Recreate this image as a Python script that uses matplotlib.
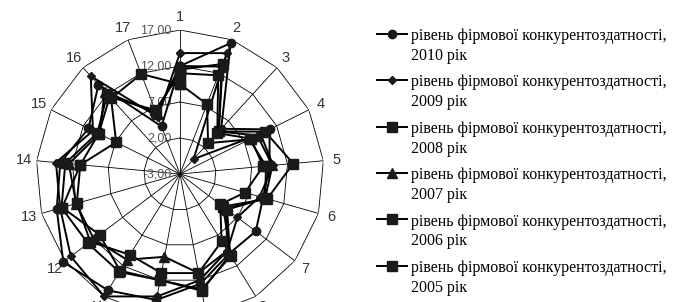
import numpy as np
import matplotlib
matplotlib.use("Agg")
import matplotlib.pyplot as plt

# axis (indicator) numbers around the radar
AXES = ['1', '2', '3', '4', '5', '6', '7', '8', '9', '10',
        '11', '12', '13', '14', '15', '16', '17']

# radial ring values and their labels
RINGS = [-3, 2, 7, 12, 17]
RING_LABELS = ['-3,00', '2,00', '7,00', '12,00', '17,00']

# values, one list per year
Y2010 = [12.0, 16.5, 5.5, 10.9, 9.5, 9.0, 10.2, 10.0, 12.5, 14.8, 16.0, 17.3, 14.8, 13.7, 11.2, 13.8, 4.1]
Y2009 = [13.8, 15.0, -0.2, 9.5, 10.0, 8.5, 7.0, 9.5, 12.0, 14.3, 17.0, 16.0, 14.3, 14.3, 10.5, 15.4, 5.5]
Y2008 = [11.5, 13.4, 5.0, 10.2, 12.8, 9.6, 4.5, 10.4, 13.3, 12.0, 13.0, 13.0, 14.1, 13.0, 9.8, 12.0, 6.2]
Y2007 = [12.0, 13.0, 5.0, 9.0, 9.9, 9.3, 5.0, 9.5, 11.0, 8.7, 11.0, 12.0, 12.0, 12.5, 9.5, 12.5, 6.0]
Y2006 = [11.0, 11.7, 4.7, 8.0, 8.6, 6.4, 4.0, 8.0, 11.0, 11.0, 10.2, 12.6, 11.9, 10.9, 9.6, 11.5, 6.5]
Y2005 = [9.5, 7.4, 2.8, 7.8, 9.0, 9.3, 5.2, 10.2, 13.5, 12.0, 12.8, 11.0, 14.0, 10.9, 6.9, 11.2, 11.9]

SERIES = [
    ('2010', Y2010, 'o', 6.0),
    ('2009', Y2009, 'D', 4.5),
    ('2008', Y2008, 's', 6.5),
    ('2007', Y2007, '^', 6.5),
    ('2006', Y2006, 's', 7.5),
    ('2005', Y2005, 's', 7.5),
]
LABEL = 'рівень фірмової конкурентоздатності,\n{} рік'

n = len(AXES)
theta = np.arange(n) * 2 * np.pi / n
theta_closed = np.append(theta, theta[0])

fig = plt.figure(figsize=(6.89, 3.02), dpi=100)
ax = fig.add_axes([0.0522, -0.053, 0.418, 0.9536], projection='polar')
ax.set_theta_zero_location('N')
ax.set_theta_direction(-1)
ax.set_ylim(RINGS[0], RINGS[-1])
ax.grid(False)
ax.set_xticks([])
ax.set_yticks([])
ax.spines['polar'].set_visible(False)

# polygon grid + spokes
for lvl in RINGS[1:]:
    ax.plot(theta_closed, [lvl] * (n + 1), color='black', lw=0.6, zorder=1)
for t in theta:
    ax.plot([t, t], [RINGS[0], RINGS[-1]], color='black', lw=0.6, zorder=1)

for lvl, txt in zip(RINGS, RING_LABELS):
    ax.annotate(txt, xy=(0, lvl), xytext=(-6, 0), textcoords='offset points',
                ha='right', va='center', fontsize=9, color='#555555',
                family='Liberation Sans', zorder=2)

for t, lab in zip(theta, AXES):
    ax.text(t, 18.8, lab, ha='center', va='center', fontsize=10.5,
            color='#333333', family='Liberation Sans', clip_on=False)

handles = []
for year, vals, mk, ms in SERIES:
    h, = ax.plot(theta_closed, vals + vals[:1], color='black', lw=1.4,
                 marker=mk, ms=ms, mfc='#1a1a1a', mec='#1a1a1a',
                 clip_on=False, zorder=3)
    handles.append(h)

leg = fig.legend(handles, [LABEL.format(s[0]) for s in SERIES],
                 loc='upper left', bbox_to_anchor=(377 / 689, 1 - 28 / 302),
                 frameon=False, borderpad=0, borderaxespad=0,
                 handlelength=1.9, handletextpad=0.2, labelspacing=0.68,
                 prop={'family': 'Liberation Serif', 'size': 11.5})
for txt in leg.get_texts():
    txt.set_linespacing(1.3)
# put each marker beside the first line of its label
for row in leg._legend_handle_box.get_children()[0].get_children():
    row.align = 'top'

fig.savefig('out.png', dpi=100)
